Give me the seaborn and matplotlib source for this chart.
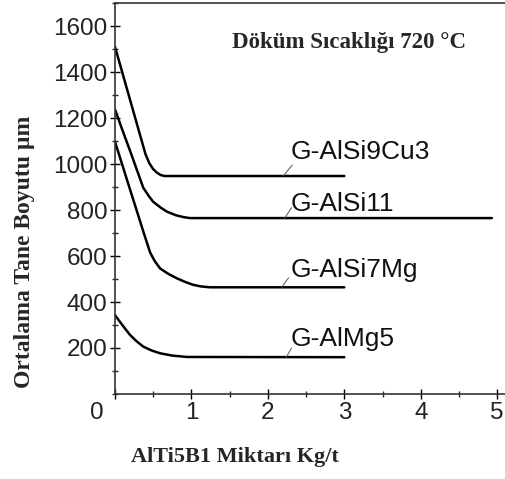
import matplotlib
matplotlib.use("Agg")
import matplotlib.pyplot as plt
import matplotlib.transforms as mtransforms
import seaborn as sns
import pandas as pd
from matplotlib.ticker import MultipleLocator

sns.set_theme(style="white")
plt.rcParams['font.family'] = ['Liberation Sans', 'DejaVu Sans']

# Data
x_cu3 = [0, 0.1, 0.2, 0.3, 0.4, 0.45, 0.5, 0.55, 0.6, 0.65, 3.0]
y_cu3 = [1510, 1393, 1276, 1159, 1042, 1003, 978, 962, 952, 948, 948]

x_si11 = [0, 0.1, 0.2, 0.3, 0.37, 0.44, 0.5, 0.6, 0.68, 0.8, 0.9, 0.98, 4.93]
y_si11 = [1238, 1145, 1055, 962, 897, 862, 836, 810, 793, 777, 769, 765, 765]

x_si7 = [0, 0.1, 0.2, 0.3, 0.4, 0.46, 0.52, 0.59, 0.7, 0.81, 0.92, 1.02, 1.12, 1.24, 3.0]
y_si7 = [1097, 992, 886, 781, 676, 615, 578, 546, 522, 503, 487, 475, 468, 464, 464]

x_mg5 = [0, 0.1, 0.196, 0.28, 0.37, 0.48, 0.59, 0.75, 0.94, 3.0]
y_mg5 = [343, 298, 257, 230, 206, 189, 177, 167, 161, 160]

series_names = ["G-AlSi9Cu3", "G-AlSi11", "G-AlSi7Mg", "G-AlMg5"]
label_pos = [(2.30, 1052), (2.30, 826), (2.30, 540), (2.30, 237)]
leader_from = [(2.20, 948), (2.22, 765), (2.18, 464), (2.24, 160)]
leader_to = [(2.32, 996), (2.31, 810), (2.27, 505), (2.31, 200)]

x_ticks = [0, 1, 2, 3, 4, 5]
y_ticks = [200, 400, 600, 800, 1000, 1200, 1400, 1600]

frames = []
for name, xs, ys in zip(series_names,
                        [x_cu3, x_si11, x_si7, x_mg5],
                        [y_cu3, y_si11, y_si7, y_mg5]):
    frames.append(pd.DataFrame({"x": xs, "y": ys, "alloy": name}))
df = pd.concat(frames, ignore_index=True)

fig = plt.figure(figsize=(5.05, 4.79), dpi=100)
ax = fig.add_axes([0.2277, 0.1775, 0.772, 0.816])

sns.lineplot(data=df, x="x", y="y", units="alloy", estimator=None,
             color="black", lw=1.8, sort=False, ax=ax, legend=False)

for name, (lx, ly), (fx, fy), (tx, ty) in zip(series_names, label_pos, leader_from, leader_to):
    ax.text(lx, ly, name, fontsize=19, ha="left", va="center", color="#111111")
    ax.plot([fx, tx], [fy, ty], color="#555555", lw=0.7)

ax.set_xlim(0, 5.1)
ax.set_ylim(0, 1700)
ax.set_xticks(x_ticks)
ax.set_yticks(y_ticks)
ax.xaxis.set_minor_locator(MultipleLocator(0.5))
ax.yaxis.set_minor_locator(MultipleLocator(100))
ax.tick_params(axis="both", which="major", direction="inout", length=7, width=1,
               labelsize=17.5, colors="black", labelcolor="#222222", pad=2)
ax.tick_params(axis="both", which="minor", direction="inout", length=5, width=1)
ax.tick_params(bottom=True, left=True, which="both")

# the "0" label sits left of the axis in the original
fig.canvas.draw()
xl0 = ax.get_xticklabels()[0]
xl0.set_transform(xl0.get_transform() + mtransforms.ScaledTranslation(-0.18, 0, fig.dpi_scale_trans))

for s in ["left", "bottom", "top"]:
    ax.spines[s].set_visible(True)
    ax.spines[s].set_color("#333333")
    ax.spines[s].set_linewidth(1.2)
ax.spines["right"].set_visible(False)

serif = ["Liberation Serif", "DejaVu Serif"]
ax.set_xlabel("AlTi5B1 Miktarı Kg/t", fontsize=16, fontweight="bold", family=serif)
ax.xaxis.set_label_coords(0.308, -0.135)
ax.set_ylabel("Ortalama Tane Boyutu µm", fontsize=17, fontweight="bold", family=serif)
ax.yaxis.set_label_coords(-0.205, 0.363)
ax.text(1.53, 1530, "Döküm Sıcaklığı 720 °C", fontsize=16.5, fontweight="bold",
        family=serif, ha="left", va="center")

fig.savefig("out.png", dpi=100)
